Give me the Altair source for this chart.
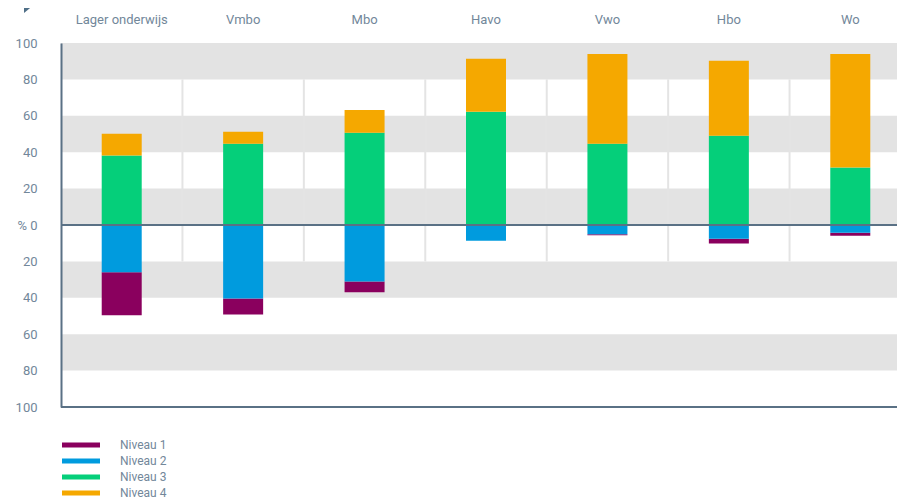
import altair as alt
import pandas as pd

# ---- data ----
categories = ["Lager onderwijs", "Vmbo", "Mbo", "Havo", "Vwo", "Hbo", "Wo"]
niveau_1 = [23.6, 8.8, 5.9, 0.0, 0.6, 2.6, 1.7]
niveau_2 = [26.0, 40.4, 31.1, 8.6, 5.1, 7.5, 4.2]
niveau_3 = [38.2, 44.6, 50.7, 62.2, 44.6, 49.0, 31.6]
niveau_4 = [11.9, 6.6, 12.5, 29.1, 49.4, 41.3, 62.4]
levels = ["Niveau 1", "Niveau 2", "Niveau 3", "Niveau 4"]
level_colors = ["#8a005e", "#009bde", "#05cf7a", "#f5a800"]
y_ticks = [-100, -80, -60, -40, -20, 0, 20, 40, 60, 80, 100]
band_low = [80, 40, 0, -40, -80]
band_high = [100, 60, 20, -20, -60]
sep_top = 80
sep_bottom = -20

# ---- tables ----
rows = []
series = {"Niveau 1": niveau_1, "Niveau 2": niveau_2,
          "Niveau 3": niveau_3, "Niveau 4": niveau_4}
sign = {"Niveau 1": -1, "Niveau 2": -1, "Niveau 3": 1, "Niveau 4": 1}
stack_order = {"Niveau 2": 0, "Niveau 1": 1, "Niveau 3": 2, "Niveau 4": 3}
for lvl, vals in series.items():
    for cat, v in zip(categories, vals):
        rows.append({"cat": cat, "level": lvl, "value": sign[lvl] * v,
                     "ord": stack_order[lvl]})
df = pd.DataFrame(rows)
bands_df = pd.DataFrame({"lo": band_low, "hi": band_high})
sep_df = pd.DataFrame({"cat": categories[1:], "top": sep_top, "bottom": sep_bottom})

TEXT = "#72879a"
AXIS = "#5a7185"
FONT = "Roboto"

yscale = alt.Scale(domain=[-100, 100], nice=False, zero=False)
# the category bands continue past the right edge of the page, as in the reference
xscale = alt.Scale(domain=categories, paddingInner=0, paddingOuter=0, range=[0, 850])
yaxis = alt.Axis(values=y_ticks, title=None, grid=False, ticks=False,
                 domain=True, domainColor=AXIS, domainWidth=2,
                 labelExpr="datum.value == 0 ? '% 0' : abs(datum.value)",
                 labelColor=TEXT, labelFont=FONT, labelFontSize=13,
                 labelPadding=24, zindex=2)
xaxis = alt.Axis(orient="top", title=None, grid=False, ticks=False,
                 domain=False, labelAngle=0, labelColor=TEXT, labelFont=FONT,
                 labelFontSize=13, labelPadding=17)

bands = alt.Chart(bands_df).mark_rect(color="#e3e3e3").encode(
    y=alt.Y("lo:Q", scale=yscale, axis=yaxis),
    y2="hi:Q",
)

seps = alt.Chart(sep_df).mark_rule(color="#e4e4e4", strokeWidth=2).encode(
    x=alt.X("cat:N", scale=xscale, axis=xaxis, bandPosition=0),
    y=alt.Y("top:Q", scale=yscale, axis=yaxis),
    y2="bottom:Q",
)

bars = alt.Chart(df).mark_bar(width=40).encode(
    x=alt.X("cat:N", scale=xscale, axis=xaxis),
    y=alt.Y("value:Q", stack="zero", scale=yscale, axis=yaxis),
    color=alt.Color(
        "level:N",
        scale=alt.Scale(domain=levels, range=level_colors),
        legend=alt.Legend(
            title=None, orient="none", legendX=1, legendY=394,
            symbolType="M-1,-0.13L1,-0.13L1,0.13L-1,0.13Z",
            symbolSize=1444, clipHeight=16, rowPadding=0,
            labelOffset=20, labelFontSize=12, labelColor=TEXT,
            labelFont=FONT, padding=0, symbolStrokeWidth=0,
        ),
    ),
    order=alt.Order("ord:Q"),
)

zero_line = alt.Chart(pd.DataFrame({"v": [0]})).mark_rule(
    color=AXIS, strokeWidth=2).encode(y=alt.Y("v:Q", scale=yscale, axis=yaxis))
bottom_line = alt.Chart(pd.DataFrame({"v": [-100]})).mark_rule(
    color=AXIS, strokeWidth=2).encode(y=alt.Y("v:Q", scale=yscale, axis=yaxis))

triangle = alt.Chart(pd.DataFrame({"k": [0]})).mark_point(
    shape="M-1,-0.8L1,-0.8L-1,0.8Z", filled=True, size=256,
    color="#4f6f87", opacity=1).encode(x=alt.value(-29), y=alt.value(-36.5))

chart = alt.layer(bands, seps, bars, zero_line, bottom_line, triangle).properties(
    width=836, height=364,
    autosize=alt.AutoSizeParams(type="none"),
    padding={"left": 53, "top": 35, "right": 0, "bottom": 95},
).configure_view(stroke=None).configure(background="white")

chart.save("out.html", embed_options={"renderer": "svg", "actions": False})
